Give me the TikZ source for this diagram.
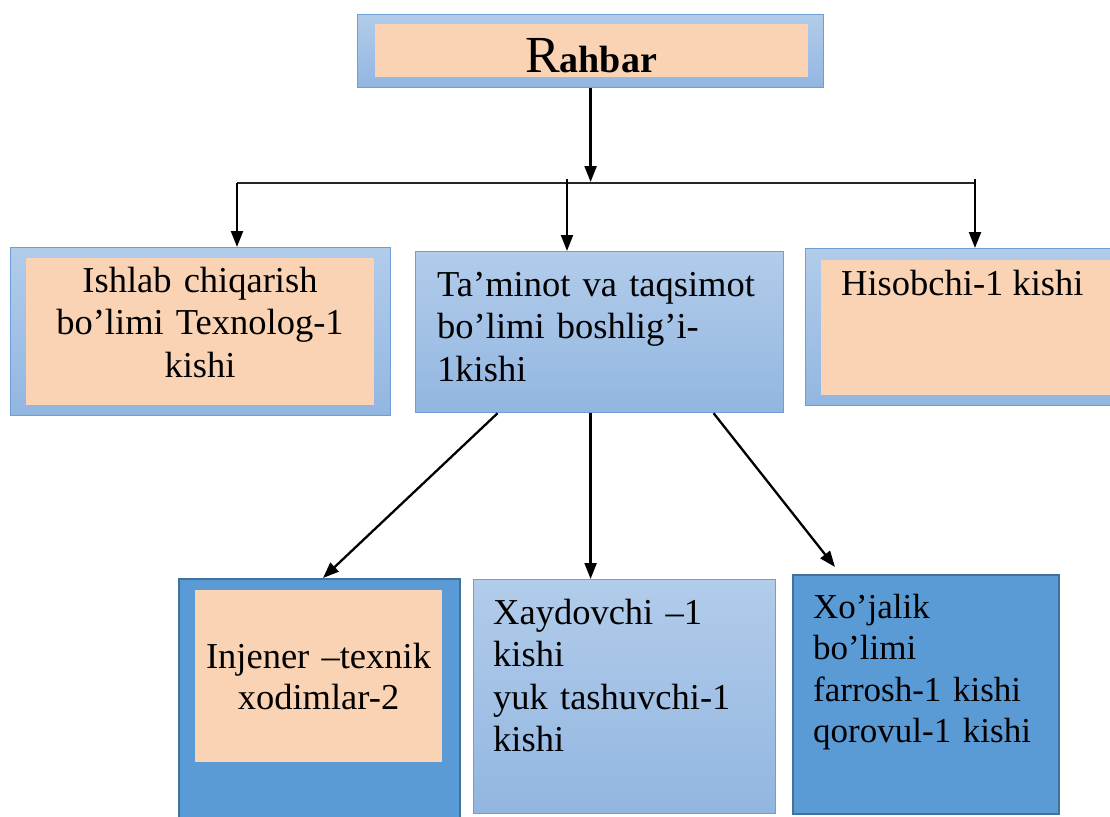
\documentclass[tikz,border=0pt]{standalone}
\usepackage{fontspec}
\setmainfont{Liberation Serif}
\usetikzlibrary{arrows.meta}
\definecolor{peach}{HTML}{F9D3B4}
\definecolor{lbtop}{HTML}{B2CCEA}
\definecolor{lbbot}{HTML}{92B6E1}
\definecolor{lbline}{HTML}{6C9FD7}
\definecolor{dkblue}{HTML}{5B9BD5}
\definecolor{dkline}{HTML}{41719C}
\tikzset{
 lightbox/.style={draw=lbline, line width=1.2pt, top color=lbtop, bottom color=lbbot, rectangle, inner sep=0pt, anchor=north west},
 darkbox/.style={draw=dkline, line width=2pt, fill=dkblue, rectangle, inner sep=0pt, anchor=north west},
 peachbox/.style={fill=peach, rectangle, inner sep=0pt, anchor=north west},
 txt/.style={inner sep=0pt, font=\fontsize{36.5}{42.5}\selectfont},
 arr/.style={line width=2.3pt, -{Triangle[width=12pt,length=16pt]}},
 bus/.style={line width=1.6pt, draw=black!85}
}
\begin{document}
\begin{tikzpicture}[x=1pt,y=-1pt]
\useasboundingbox (0,0) rectangle (1110,816);
\clip (0,0) rectangle (1110,816);
% top box
\node[lightbox, minimum width=466pt, minimum height=73pt] (rahbarO) at (357,14) {};
\node[peachbox, minimum width=433pt, minimum height=53pt] (rahbarI) at (375,24) {};
\node[inner sep=0pt, anchor=base] (rahbarT) at (591,73) {\fontsize{52}{52}\selectfont R\fontsize{38}{38}\selectfont\bfseries ahbar};
% second row
\node[lightbox, minimum width=380pt, minimum height=168pt] (leftO) at (10,247) {};
\node[peachbox, minimum width=348pt, minimum height=147pt] (leftI) at (26,258) {};
\node[txt, text width=348pt, align=center, anchor=base] (leftT) at (200,292) {Ishlab chiqarish\\bo’limi Texnolog-1\\kishi};
\node[lightbox, minimum width=368pt, minimum height=161pt] (midO) at (415,251) {};
\node[txt, text width=340pt, align=left, anchor=base west] (midT) at (437,296) {Ta’minot va taqsimot\\bo’limi boshlig’i-\\1kishi};
\node[lightbox, minimum width=315pt, minimum height=157pt] (rightO) at (805,248) {};
\node[peachbox, minimum width=300pt, minimum height=135pt] (rightI) at (821,260) {};
\node[txt, anchor=base west] (rightT) at (841,295) {Hisobchi-1 kishi};
% third row
\node[darkbox, minimum width=281pt, minimum height=250pt] (blO) at (178,578) {};
\node[peachbox, minimum width=247pt, minimum height=172pt] (blI) at (195,590) {};
\node[inner sep=0pt, font=\fontsize{36.5}{41}\selectfont, text width=247pt, align=center, anchor=base] (blT) at (318.5,668) {Injener –texnik\\xodimlar-2};
\node[lightbox, minimum width=302pt, minimum height=234pt] (bmO) at (473,579) {};
\node[txt, text width=280pt, align=left, anchor=base west] (bmT) at (493,624) {Xaydovchi –1\\kishi\\yuk tashuvchi-1\\kishi};
\node[darkbox, minimum width=266pt, minimum height=239pt] (brO) at (792,574) {};
\node[inner sep=0pt, font=\fontsize{35}{41.5}\selectfont, text width=240pt, align=left, anchor=base west] (brT) at (813,618) {Xo’jalik\\bo’limi\\farrosh-1 kishi\\qorovul-1 kishi};
% connectors
\coordinate (busL) at (237,183);
\coordinate (busR) at (975,183);
\coordinate (busM) at (590,182);
\coordinate (busT) at (567,179);
\coordinate (busR2) at (975,179);
\coordinate (brTip) at (835,567);
\draw[bus] (busL) -- (busR);
\draw[arr] (rahbarO.south) -- (rahbarO.south |- busM);
\draw[arr] (busL) -- (leftO.north -| busL);
\draw[arr] (busT) -- (midO.north -| busT);
\draw[arr] (busR2) -- (rightO.north -| busR2);
\draw[arr] ([xshift=-102pt]midO.south) -- ([xshift=3.5pt]blO.north);
\draw[arr] ([xshift=-9pt]midO.south) -- ([xshift=-34pt]bmO.north);
\draw[arr] ([xshift=114pt]midO.south) -- (brTip);
\end{tikzpicture}
\end{document}
